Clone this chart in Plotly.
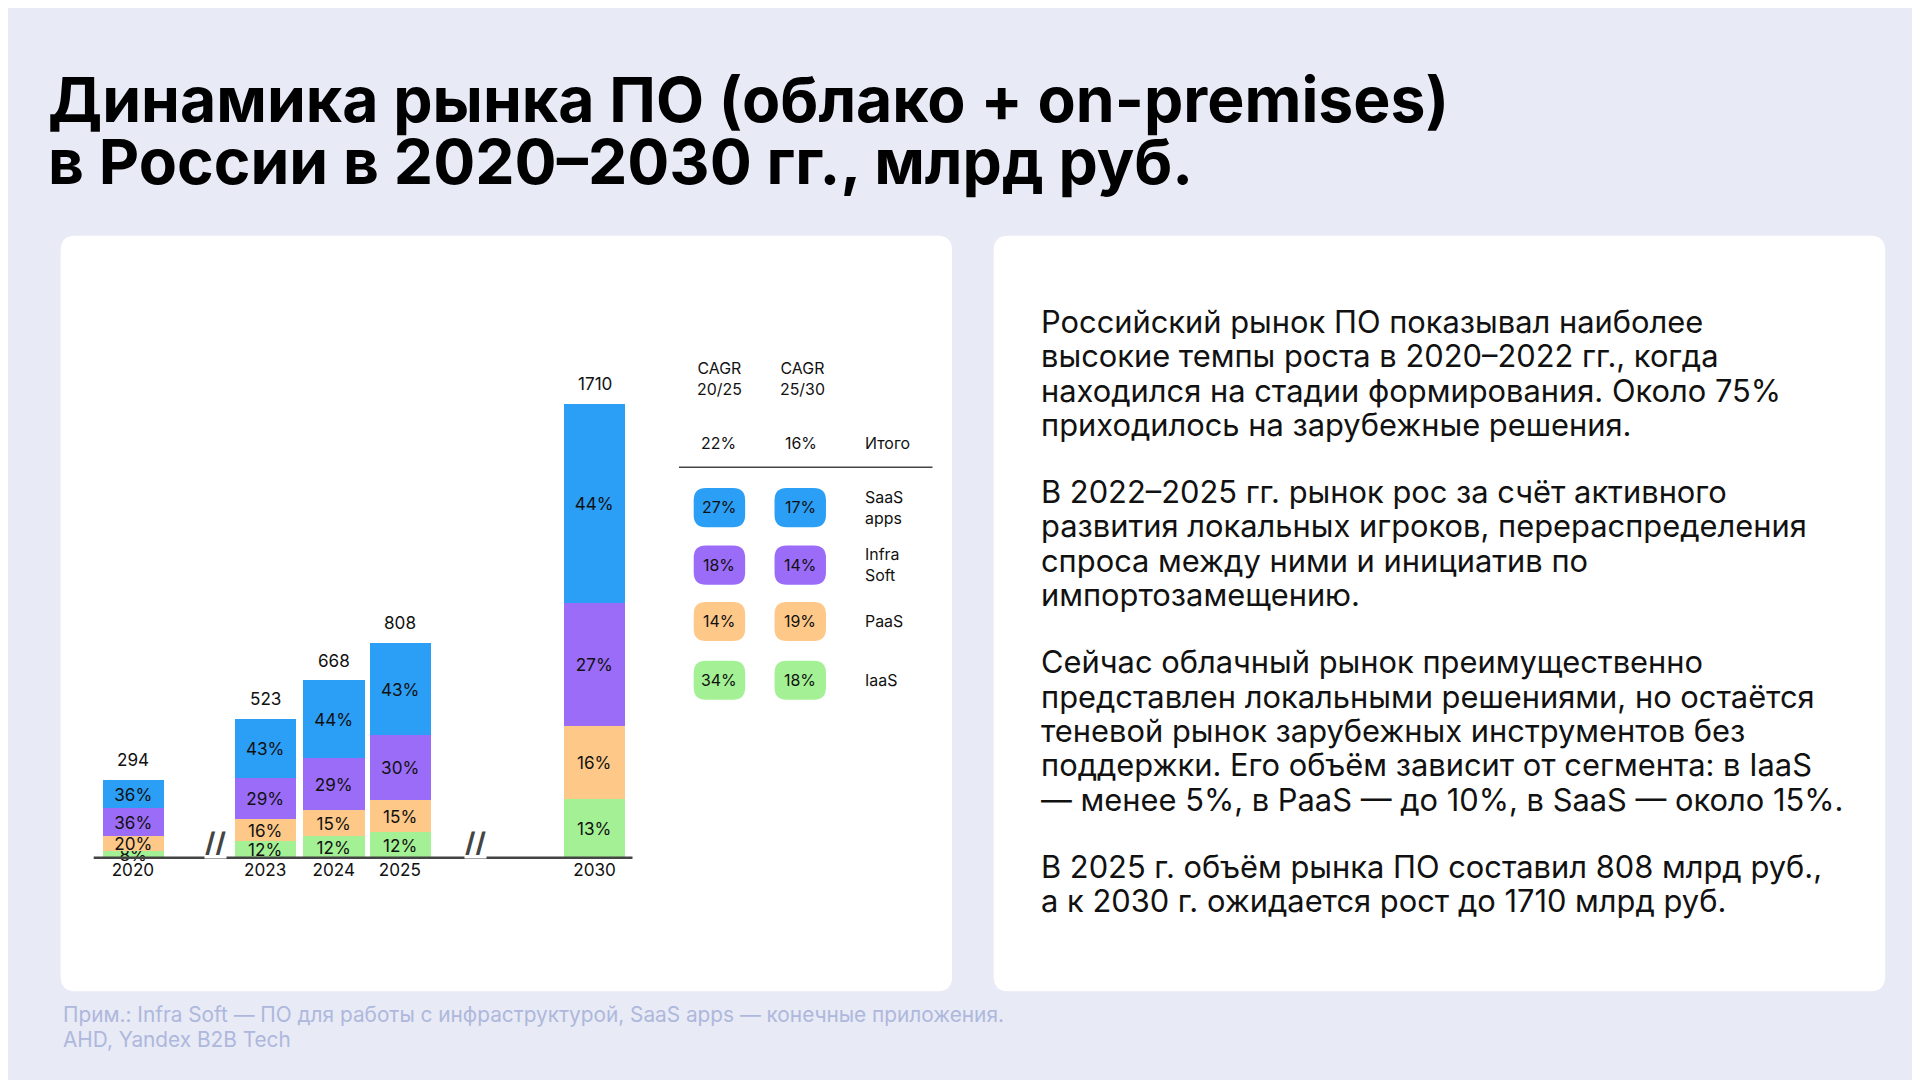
import plotly.graph_objects as go

W, H = 1920, 1080
K = W / 1568  # reference-to-output scale

years = ['2020', '2023', '2024', '2025', '2030']
totals = [294, 523, 668, 808, 1710]
segments = ['IaaS', 'PaaS', 'Infra Soft', 'SaaS apps']
shares = {
    'IaaS': [8, 12, 12, 12, 13],
    'PaaS': [20, 16, 15, 15, 16],
    'Infra Soft': [36, 29, 29, 30, 27],
    'SaaS apps': [36, 43, 44, 43, 44],
}
cagr_20_25 = ['27%', '18%', '14%', '34%']  # SaaS, Infra, PaaS, IaaS
cagr_25_30 = ['17%', '14%', '19%', '18%']
row_labels = ['SaaS<br>apps', 'Infra<br>Soft', 'PaaS', 'IaaS']
cagr_total = ['22%', '16%']

colors = {'IaaS': '#a4f195', 'PaaS': '#fdc888', 'Infra Soft': '#9b6cf8', 'SaaS apps': '#2b9ef5'}
row_colors = [colors['SaaS apps'], colors['Infra Soft'], colors['PaaS'], colors['IaaS']]

title_lines = ['Динамика рынка ПО (облако + on-premises)', 'в России в 2020–2030 гг., млрд руб.']
body_lines = [
    'Российский рынок ПО показывал наиболее',
    'высокие темпы роста в 2020–2022 гг., когда',
    'находился на стадии формирования. Около 75%',
    'приходилось на зарубежные решения.',
    None,
    'В 2022–2025 гг. рынок рос за счёт активного',
    'развития локальных игроков, перераспределения',
    'спроса между ними и инициатив по',
    'импортозамещению.',
    None,
    'Сейчас облачный рынок преимущественно',
    'представлен локальными решениями, но остаётся',
    'теневой рынок зарубежных инструментов без',
    'поддержки. Его объём зависит от сегмента: в IaaS',
    '— менее 5%, в PaaS — до 10%, в SaaS — около 15%.',
    None,
    'В 2025 г. объём рынка ПО составил 808 млрд руб.,',
    'а к 2030 г. ожидается рост до 1710 млрд руб.',
]
notes = ['Прим.: Infra Soft — ПО для работы с инфраструктурой, SaaS apps — конечные приложения.',
         'AHD, Yandex B2B Tech']

FONT = 'Inter'


def px(x):
    return x / 1568


def py(y):
    return 1 - y / 882


def rrect(x0, y0, x1, y1, r):
    # rounded rectangle in paper coords, input in reference pixels
    rx, ry = r / 1568, r / 882
    X0, X1, Y0, Y1 = px(x0), px(x1), py(y1), py(y0)
    return (f'M{X0+rx},{Y0} L{X1-rx},{Y0} Q{X1},{Y0} {X1},{Y0+ry} '
            f'L{X1},{Y1-ry} Q{X1},{Y1} {X1-rx},{Y1} L{X0+rx},{Y1} '
            f'Q{X0},{Y1} {X0},{Y1-ry} L{X0},{Y0+ry} Q{X0},{Y0} {X0+rx},{Y0} Z')


def note(x, y, text, size=13, **kw):
    d = dict(xref='paper', yref='paper', x=px(x), y=py(y), text=text, showarrow=False,
             font=dict(family=FONT, size=size * K, color=kw.pop('color', '#111')))
    d.update(kw)
    return d


# bar centres in reference pixels (layout only)
bar_x = [102, 210, 266, 320, 479]

fig = go.Figure()
for seg in segments:
    vals = [t * p / 100 for t, p in zip(totals, shares[seg])]
    fig.add_trace(go.Bar(
        x=bar_x, y=vals, width=50, name=seg,
        marker=dict(color=colors[seg], line=dict(width=0)),
        text=[f'{p}%' for p in shares[seg]], textposition='inside',
        insidetextanchor='middle', textangle=0, constraintext='none',
        textfont=dict(family=FONT, size=14 * K, color='#111'),
        showlegend=False, hoverinfo='skip', cliponaxis=False,
    ))

ann = []
for x, t in zip(bar_x, totals):
    ann.append(dict(x=x, y=t, xref='x', yref='y', text=str(t), showarrow=False, yanchor='bottom',
                    yshift=8, font=dict(family=FONT, size=14 * K, color='#111')))

shapes = [
    dict(type='path', path=rrect(43, 186, 771, 803, 12), xref='paper', yref='paper',
         fillcolor='white', line=dict(width=0), layer='below'),
    dict(type='path', path=rrect(805, 186, 1533, 803, 12), xref='paper', yref='paper',
         fillcolor='white', line=dict(width=0), layer='below'),
    dict(type='line', xref='paper', yref='paper', x0=px(70), x1=px(510), y0=py(694), y1=py(694),
         line=dict(color='#444', width=2.5)),
    dict(type='line', xref='paper', yref='paper', x0=px(548), x1=px(755), y0=py(375), y1=py(375),
         line=dict(color='#444', width=1.5)),
]
for bx in [160, 372]:
    ann.append(note(bx, 695, '<b>//</b>', size=22, color='#444', bgcolor='white', borderpad=0))

ann.append(note(581, 303, 'CAGR<br>20/25'))
ann.append(note(649, 303, 'CAGR<br>25/30'))
ann.append(note(580, 356, cagr_total[0]))
ann.append(note(648, 356, cagr_total[1]))
ann.append(note(698, 356, 'Итого', xanchor='left'))

row_y = [408, 455, 501, 549]
for ry, c, a, b, lab in zip(row_y, row_colors, cagr_20_25, cagr_25_30, row_labels):
    for cx, v in [(581, a), (647, b)]:
        shapes.append(dict(type='path', path=rrect(cx - 21, ry - 16, cx + 21, ry + 16, 10),
                           xref='paper', yref='paper', fillcolor=c, line=dict(width=0)))
        ann.append(note(cx, ry, v))
    ann.append(note(698, ry, lab, xanchor='left', align='left'))

for i, line in enumerate(title_lines):
    a = note(31, 75 + 50 * i, f'<b>{line}</b>', size=51, color='#000', xanchor='left', yanchor='middle')
    a['font']['weight'] = 800
    ann.append(a)

yy = 256
for line in body_lines:
    if line is None:
        yy += 27
        continue
    ann.append(note(842, yy, line, size=25.2, xanchor='left', yanchor='middle'))
    yy += 28

for i, line in enumerate(notes):
    ann.append(note(43, 822 + 20 * i, line, size=17, color='#aeb8dc', xanchor='left', yanchor='middle'))

fig.update_layout(
    width=W, height=H, margin=dict(l=0, r=0, t=0, b=0),
    paper_bgcolor='#e8eaf6', plot_bgcolor='rgba(0,0,0,0)',
    barmode='stack', bargap=0,
    xaxis=dict(domain=[px(70), px(510)], range=[70, 510], showgrid=False, zeroline=False,
               tickvals=bar_x, ticktext=years, ticks='', showline=False,
               tickfont=dict(family=FONT, size=14 * K, color='#111')),
    yaxis=dict(domain=[py(694), py(304)], range=[0, 1800], visible=False),
    shapes=shapes, annotations=ann,
)
fig.write_html('out.html')
